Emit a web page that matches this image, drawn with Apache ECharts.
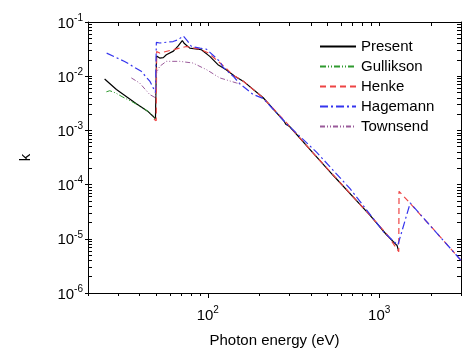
<!DOCTYPE html>
<html>
<head>
<meta charset="utf-8">
<script src="https://cdn.jsdelivr.net/npm/echarts@6/dist/echarts.min.js"></script>
<style>
  html, body { margin: 0; padding: 0; background: #fff; }
  #chart { width: 463px; height: 353px; }
</style>
</head>
<body>
<div id="chart"></div>
<script>
// [photon energy (eV), k]
const present = [
  [25, 0.0089], [29.3, 0.0057], [38.3, 0.0031], [45, 0.0022], [49.5, 0.00165],
  [50.2, 0.0236], [52.4, 0.0216], [55, 0.022], [57.3, 0.0249], [63, 0.029],
  [67, 0.036], [71, 0.0455], [73, 0.04], [78.5, 0.033], [91.8, 0.0308],
  [102.7, 0.0232], [114.6, 0.0163], [128, 0.0132], [143.6, 0.0100], [160.9, 0.0081],
  [210.5, 0.0040], [280, 0.00145], [285, 0.0013], [290, 0.00135], [300, 0.00118],
  [412, 3.8e-4], [540, 1.47e-4], [885, 2.7e-5], [1100, 1.2e-5], [1272, 7.5e-6], [1290, 6.3e-6]
];
const gullikson = [
  [25.6, 0.00515], [26.8, 0.0054], [29, 0.0049], [32, 0.0041], [36, 0.0034],
  [41.9, 0.0026], [46, 0.0021], [48.3, 0.00185], [49.3, 0.0016]
];
const henke = [
  [48.5, 0.0016], [50, 0.0015], [50.3, 0.0286], [52.4, 0.0267], [62.7, 0.0308],
  [75, 0.0353], [90, 0.0316], [100, 0.027], [112, 0.0201], [128, 0.014],
  [140, 0.0105], [160, 0.0082], [210, 0.0040], [290, 0.00135], [412, 3.8e-4],
  [540, 1.5e-4], [885, 2.7e-5], [1100, 1.25e-5], [1300, 5.8e-6], [1305, 7.5e-5],
  [1420, 5.65e-5], [2000, 1.7e-5], [3000, 4.0e-6]
];
const hagemann = [
  [25.7, 0.0267], [32.7, 0.0187], [40.9, 0.0123], [46, 0.008], [49.5, 0.005],
  [50.1, 0.042], [52.4, 0.041], [62.7, 0.0436], [67, 0.047], [70, 0.052],
  [72, 0.055], [76, 0.045], [80.3, 0.0353], [90, 0.033], [98, 0.0316],
  [117.5, 0.0187], [123, 0.0145], [140.6, 0.0100], [154, 0.0072], [184, 0.0046],
  [210, 0.0039], [290, 0.0013], [432, 3.93e-4], [676, 8.4e-5], [1060, 1.35e-5],
  [1212, 9.0e-6], [1285, 7.7e-6], [1517, 4.6e-5], [2000, 1.7e-5], [3000, 4.0e-6]
];
const townsend = [
  [35.8, 0.0093], [40, 0.0075], [45.8, 0.0046], [49.5, 0.004], [50.2, 0.0115],
  [52.4, 0.0152], [57.3, 0.0188], [68.6, 0.0188], [81.9, 0.0175], [98.3, 0.0132],
  [117.5, 0.0093], [147, 0.0075], [155, 0.0072]
];

const xMajor = [100, 1000];
const xMinor = [20, 30, 40, 50, 60, 70, 80, 90, 200, 300, 400, 500, 600, 700, 800, 900, 2000, 3000];
const yMajor = [1e-6, 1e-5, 1e-4, 1e-3, 1e-2, 1e-1];
const yMinor = [];
for (const d of [1e-6, 1e-5, 1e-4, 1e-3, 1e-2]) {
  for (let m = 2; m <= 9; m++) yMinor.push(+(m * d).toPrecision(3));
}

const FONT = 'Liberation Sans, Arial, sans-serif';
const powLabel = (v) => '{b|10}{s|' + Math.round(Math.log10(v)) + '}';
const powRich = {
  b: { fontSize: 15, fontFamily: FONT, color: '#000', lineHeight: 18, verticalAlign: 'bottom' },
  s: { fontSize: 10, fontFamily: FONT, color: '#000', lineHeight: 18, verticalAlign: 'top', padding: [0, 0, 8, 0] }
};
const lineCol = { show: true, lineStyle: { color: '#000', width: 1 } };

const xBase = { type: 'log', logBase: 10, min: 20, max: 3000, splitLine: { show: false }, minorTick: { show: false } };
const yBase = { type: 'log', logBase: 10, min: 1e-6, max: 0.1, splitLine: { show: false }, minorTick: { show: false } };

const chart = echarts.init(document.getElementById('chart'));
chart.setOption({
  animation: false,
  grid: { left: 88, right: 2, top: 22, bottom: 58 },
  legend: {
    orient: 'vertical',
    left: 314,
    top: 34,
    itemWidth: 36,
    itemHeight: 14,
    itemGap: 5,
    itemStyle: { opacity: 0 },
    textStyle: { fontSize: 15, fontFamily: FONT, color: '#000' },
    data: ['Present', 'Gullikson', 'Henke', 'Hagemann', 'Townsend']
  },
  xAxis: [
    Object.assign({}, xBase, {
      position: 'bottom',
      axisLine: lineCol,
      axisTick: { show: true, customValues: xMajor, length: 5, inside: false, lineStyle: { color: '#000' } },
      axisLabel: { customValues: xMajor, formatter: powLabel, rich: powRich, margin: 12 },
      name: 'Photon energy (eV)',
      nameLocation: 'middle',
      nameGap: 40,
      nameTextStyle: { fontSize: 15, fontFamily: FONT, color: '#000' }
    }),
    Object.assign({}, xBase, {
      position: 'bottom',
      axisLine: { show: false },
      axisTick: { show: true, customValues: xMinor, length: 3, inside: false, lineStyle: { color: '#000' } },
      axisLabel: { show: false }
    }),
    Object.assign({}, xBase, {
      position: 'top',
      axisLine: lineCol,
      axisTick: { show: true, customValues: xMajor.concat(xMinor), length: 4, inside: true, lineStyle: { color: '#000' } },
      axisLabel: { show: false }
    })
  ],
  yAxis: [
    Object.assign({}, yBase, {
      position: 'left',
      axisLine: lineCol,
      axisTick: { show: true, customValues: yMajor, length: 3, inside: false, lineStyle: { color: '#000' } },
      axisLabel: { customValues: yMajor, formatter: powLabel, rich: powRich, margin: 5 },
      name: 'k',
      nameLocation: 'middle',
      nameGap: 55,
      nameTextStyle: { fontSize: 15, fontFamily: FONT, color: '#000' }
    }),
    Object.assign({}, yBase, {
      position: 'left',
      axisLine: { show: false },
      axisTick: { show: true, customValues: yMajor.concat(yMinor), length: 4, inside: true, lineStyle: { color: '#000' } },
      axisLabel: { show: false }
    }),
    Object.assign({}, yBase, {
      position: 'right',
      axisLine: lineCol,
      axisTick: { show: true, customValues: yMajor.concat(yMinor), length: 4, inside: true, lineStyle: { color: '#000' } },
      axisLabel: { show: false }
    })
  ],
  series: [
    { name: 'Present', type: 'line', data: present, symbol: 'none', lineStyle: { color: '#000', width: 1.2 }, itemStyle: { color: '#000' } },
    { name: 'Gullikson', type: 'line', data: gullikson, symbol: 'none', lineStyle: { color: '#2f9a2f', width: 1, type: [6, 2, 1, 2, 1, 2] }, itemStyle: { color: '#2f9a2f' } },
    { name: 'Henke', type: 'line', data: henke, symbol: 'none', lineStyle: { color: '#ee4444', width: 1.2, type: [6, 4] }, itemStyle: { color: '#ee4444' } },
    { name: 'Hagemann', type: 'line', data: hagemann, symbol: 'none', lineStyle: { color: '#3535ee', width: 1.2, type: [8, 3, 2, 3] }, itemStyle: { color: '#3535ee' } },
    { name: 'Townsend', type: 'line', data: townsend, symbol: 'none', lineStyle: { color: '#9a5a9a', width: 1, type: [5, 2, 1, 2, 1, 2] }, itemStyle: { color: '#9a5a9a' } }
  ]
});
</script>
</body>
</html>
